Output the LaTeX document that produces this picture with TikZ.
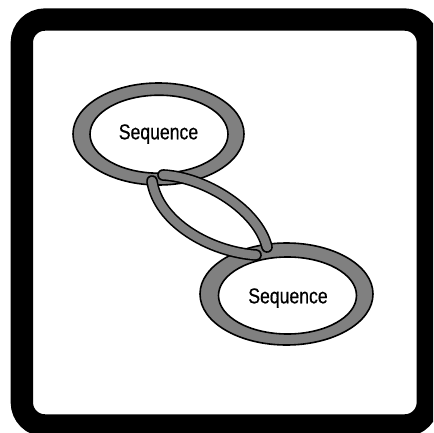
\documentclass[tikz,border=0pt]{standalone}
\usepackage{fontspec}
\newfontfamily\narrowfont[FakeStretch=0.82,FakeBold=0.5]{Liberation Sans}
\definecolor{ringgray}{RGB}{128,128,128}
\tikzset{
  ringouter/.style={fill=ringgray, draw=black, line width=1.6pt},
  ringinner/.style={fill=white, draw=black, line width=1.6pt},
  linkband/.style={draw=black, line width=1.6pt, double=ringgray, double distance=8.5pt, line cap=round},
  seqtext/.style={font=\narrowfont\fontsize{21.5pt}{24pt}\selectfont, inner sep=0pt, anchor=base},
  frame/.style={draw=black, line width=22.3pt, rounded corners=23pt}
}
\begin{document}
\begin{tikzpicture}[x=1pt,y=-1pt]
\useasboundingbox (0,0) rectangle (433,433);
\begin{scope}
\clip (0,0) rectangle (433,433);
\fill[white] (0,0) rectangle (433,433);
\draw[frame] (21.85,19.55) rectangle (427.85,425.45);
\end{scope}
% top ring
\path[ringouter] (158.5,134) ellipse [x radius=85.5pt, y radius=51pt];
\path[ringinner] (159,134.2) ellipse [x radius=69pt, y radius=39pt];
\node[seqtext] (seqA) at (158.5,139.3) {Sequence};
% bottom ring
\path[ringouter] (286.5,294) ellipse [x radius=86.5pt, y radius=51pt];
\path[ringinner] (287.5,295.5) ellipse [x radius=69pt, y radius=38.5pt];
\node[seqtext] (seqB) at (288,303.3) {Sequence};
% links
\coordinate (la) at (152,181);
\coordinate (lb) at (256,255);
\coordinate (ra) at (163,175);
\coordinate (rb) at (267,247);
\draw[linkband] (la) .. controls (158,222) and (210,252) .. (lb);
\draw[linkband] (ra) .. controls (205,177) and (258,210) .. (rb);
\end{tikzpicture}
\end{document}
